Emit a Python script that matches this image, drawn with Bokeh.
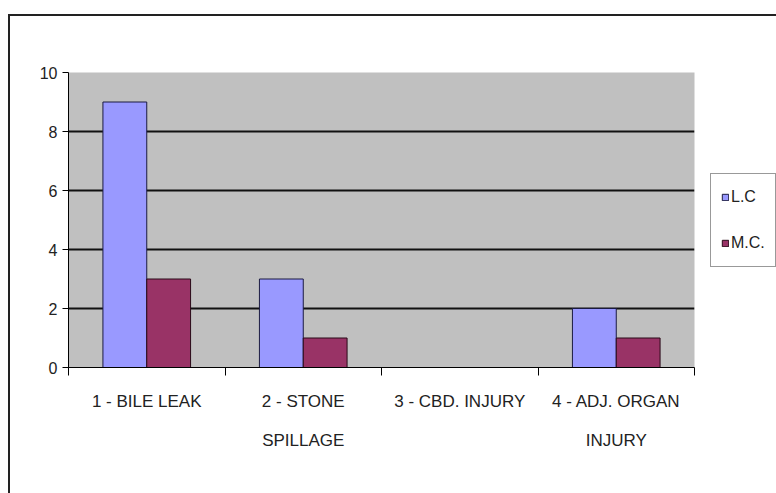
import numpy as np
from bokeh.plotting import figure
from bokeh.models import (FixedTicker, Legend, LegendItem, Range1d, ColumnDataSource)
from bokeh.embed import file_html
from bokeh.resources import INLINE

categories = ["1 - BILE LEAK", "2 - STONE\nSPILLAGE", "3 - CBD. INJURY", "4 - ADJ. ORGAN\nINJURY"]
lc_values = [9, 3, 0, 2]
mc_values = [3, 1, 0, 1]
series_names = ["L.C", "M.C."]
y_ticks = [0, 2, 4, 6, 8, 10]

FONT = "Liberation Sans"
n = len(categories)
centers = np.arange(n) + 0.5
bw = 0.28

p = figure(frame_width=626, frame_height=295, output_backend="svg", toolbar_location=None,
           x_range=Range1d(0, n), y_range=Range1d(0, 10),
           min_border_left=58, min_border_right=0, min_border_top=56, min_border_bottom=126,
           margin=(14, 0, 0, 8))
p.styles = {"border-top": "2px solid #222", "border-left": "2px solid #222"}
p.background_fill_color = "#C0C0C0"
p.border_fill_color = "white"
p.outline_line_color = None

src = ColumnDataSource(dict(x_lc=centers - bw / 2, x_mc=centers + bw / 2,
                            lc=lc_values, mc=mc_values))
r1 = p.vbar(x="x_lc", top="lc", width=bw, source=src, fill_color="#9999FF",
            line_color="#1a1a40", line_width=1)
r2 = p.vbar(x="x_mc", top="mc", width=bw, source=src, fill_color="#993366",
            line_color="#2a0a18", line_width=1)

# grid
p.xgrid.grid_line_color = None
p.ygrid.ticker = FixedTicker(ticks=y_ticks[1:-1])
p.ygrid.grid_line_color = "#111111"
p.ygrid.grid_line_width = 2

# y axis
p.yaxis.ticker = FixedTicker(ticks=y_ticks)
p.yaxis.major_tick_in = 0
p.yaxis.major_tick_out = 6
p.yaxis.minor_tick_line_color = None
p.yaxis.axis_line_color = "black"
p.yaxis.major_label_text_font = FONT
p.yaxis.major_label_text_font_size = "16px"
p.yaxis.major_label_text_color = "#222222"
p.yaxis.major_label_standoff = 5

# x axis: labels at centers, ticks at boundaries
p.xaxis.ticker = FixedTicker(ticks=list(centers), minor_ticks=list(np.arange(n + 1)))
p.xaxis.major_label_overrides = {float(c): lab for c, lab in zip(centers, categories)}
p.xaxis.major_tick_line_color = None
p.xaxis.minor_tick_in = 0
p.xaxis.minor_tick_out = 8
p.xaxis.minor_tick_line_color = "black"
p.xaxis.axis_line_color = "black"
p.xaxis.major_label_text_font = FONT
p.xaxis.major_label_text_font_size = "17px"
p.xaxis.major_label_text_color = "#222222"
p.xaxis.major_label_standoff = 16
p.xaxis.major_label_text_line_height = 2.1

legend = Legend(items=[LegendItem(label=series_names[0], renderers=[r1]),
                       LegendItem(label=series_names[1], renderers=[r2])],
                location="center_left", orientation="vertical",
                label_text_font=FONT, label_text_font_size="16px",
                label_text_color="#222222",
                glyph_width=8, glyph_height=8, spacing=20, padding=10,
                label_height=26, label_width=34,
                margin=16, label_standoff=2,
                border_line_color="#333333", border_line_width=1.5,
                background_fill_color="white", background_fill_alpha=1)
p.add_layout(legend, "right")

open("out.html", "w").write(file_html(p, INLINE))
